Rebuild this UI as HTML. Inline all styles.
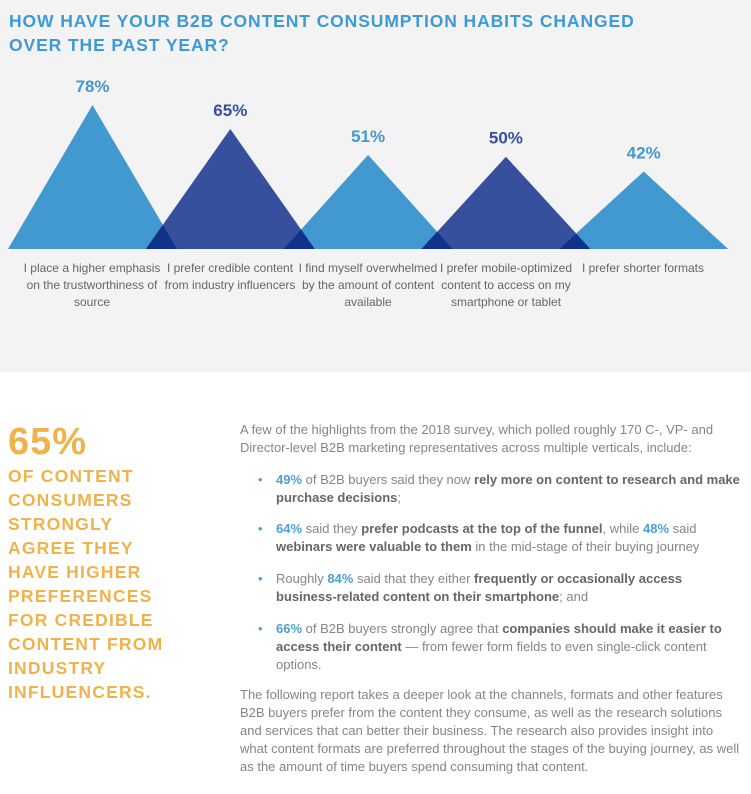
<!DOCTYPE html>
<html><head><meta charset="utf-8"><style>
body{margin:0;width:751px;height:794px;background:#fff;position:relative;overflow:hidden;font-family:"Liberation Sans",sans-serif}
.gray{position:absolute;left:0;top:0;width:751px;height:372px;background:#f3f3f3}
.title{position:absolute;left:9px;top:9px;color:#3d9ad6;font-weight:bold;font-size:17.5px;line-height:24px;letter-spacing:0.9px}
.lbl{position:absolute;width:150px;text-align:center;font-size:12px;line-height:17px;color:#666}
.big{position:absolute;left:8px;top:420px;color:#f0b24b;font-weight:bold}
.big .n{font-size:38px;line-height:44px;letter-spacing:1px}
.big .t{font-size:17.5px;line-height:24px;letter-spacing:1.2px}
.txt{position:absolute;left:240px;font-size:13px;line-height:18px;color:#858585}
.bl{position:absolute;left:276px;font-size:13px;line-height:18px;color:#858585;width:470px}
.bl::before{content:"•";position:absolute;left:-18px;color:#4a9fd8}
b{color:#666}
.p{color:#4a9fd8;font-weight:bold}
</style></head><body>
<div class="gray"></div>
<div class="title">HOW HAVE YOUR B2B CONTENT CONSUMPTION HABITS CHANGED<br>OVER THE PAST YEAR?</div>
<svg id="chart" style="position:absolute;left:0;top:0" width="751" height="260"></svg>
<div class="lbl" style="left:17px;top:260px">I place a higher emphasis on the trustworthiness of source</div>
<div class="lbl" style="left:155px;top:260px">I prefer credible content from industry influencers</div>
<div class="lbl" style="left:293px;top:260px">I find myself overwhelmed by the amount of content available</div>
<div class="lbl" style="left:431px;top:260px">I prefer mobile-optimized content to access on my smartphone or tablet</div>
<div class="lbl" style="left:568px;top:260px">I prefer shorter formats</div>
<div class="big"><div class="n">65%</div><div class="t">OF CONTENT<br>CONSUMERS<br>STRONGLY<br>AGREE THEY<br>HAVE HIGHER<br>PREFERENCES<br>FOR CREDIBLE<br>CONTENT FROM<br>INDUSTRY<br>INFLUENCERS.</div></div>
<div class="txt" style="top:421px;width:500px">A few of the highlights from the 2018 survey, which polled roughly 170 C-, VP- and Director-level B2B marketing representatives across multiple verticals, include:</div>
<div class="bl" style="top:471px"><span class="p">49%</span> of B2B buyers said they now <b>rely more on content to research and make purchase decisions</b>;</div>
<div class="bl" style="top:520px"><span class="p">64%</span> said they <b>prefer podcasts at the top of the funnel</b>, while <span class="p">48%</span> said <b>webinars were valuable to them</b> in the mid-stage of their buying journey</div>
<div class="bl" style="top:570px">Roughly <span class="p">84%</span> said that they either <b>frequently or occasionally access business-related content on their smartphone</b>; and</div>
<div class="bl" style="top:620px"><span class="p">66%</span> of B2B buyers strongly agree that <b>companies should make it easier to access their content</b> — from fewer form fields to even single-click content options.</div>
<div class="txt" style="top:686px;width:500px">The following report takes a deeper look at the channels, formats and other features B2B buyers prefer from the content they consume, as well as the research solutions and services that can better their business. The research also provides insight into what content formats are preferred throughout the stages of the buying journey, as well as the amount of time buyers spend consuming that content.</div>
<script>
const categories=["trustworthiness","credible-influencers","overwhelmed","mobile-optimized","shorter-formats"];
const values=[78,65,51,50,42];
const valueLabels=["78%","65%","51%","50%","42%"];
const NS="http://www.w3.org/2000/svg";
const svg=document.getElementById('chart');
const baseY=249,x0=92.5,step=137.8,half=84.5,k=1.846;
const xAt=i=>x0+i*step, yAt=v=>baseY-v*k;
const colors=["#4299d0","#37509e"];
for(let i=0;i<values.length;i++){
  const cx=xAt(i),ay=yAt(values[i]);
  const p=document.createElementNS(NS,'polygon');
  
  
  p.setAttribute('points',`${cx-half},${baseY} ${cx},${ay} ${cx+half},${baseY}`);
  p.setAttribute('fill',colors[i%2]);
  svg.appendChild(p);
  const t=document.createElementNS(NS,'text');
  
  
  t.setAttribute('x',cx);t.setAttribute('y',ay-13);
  t.setAttribute('text-anchor','middle');
  t.setAttribute('font-family','Liberation Sans, sans-serif');
  t.setAttribute('font-weight','bold');t.setAttribute('font-size','17');
  t.setAttribute('fill',colors[i%2]);
  t.textContent=valueLabels[i];
  svg.appendChild(t);
}
// overlaps
for(let i=0;i<values.length-1;i++){
  const a=xAt(i),b=xAt(i+1);
  const ha=values[i]*k/half, hb=values[i+1]*k/half;
  // right edge of i: y=baseY-(a+half-x)*ha ; left edge of i+1: y=baseY-(x-(b-half))*hb
  const r=a+half,l=b-half;
  const xi=(r*ha+l*hb)/(ha+hb);
  const yi=baseY-(r-xi)*ha;
  const o=document.createElementNS(NS,'polygon');
  
  
  o.setAttribute('points',`${l},${baseY} ${xi},${yi} ${r},${baseY}`);
  o.setAttribute('fill','#10328a');
  svg.appendChild(o);
}
</script>
</body></html>
